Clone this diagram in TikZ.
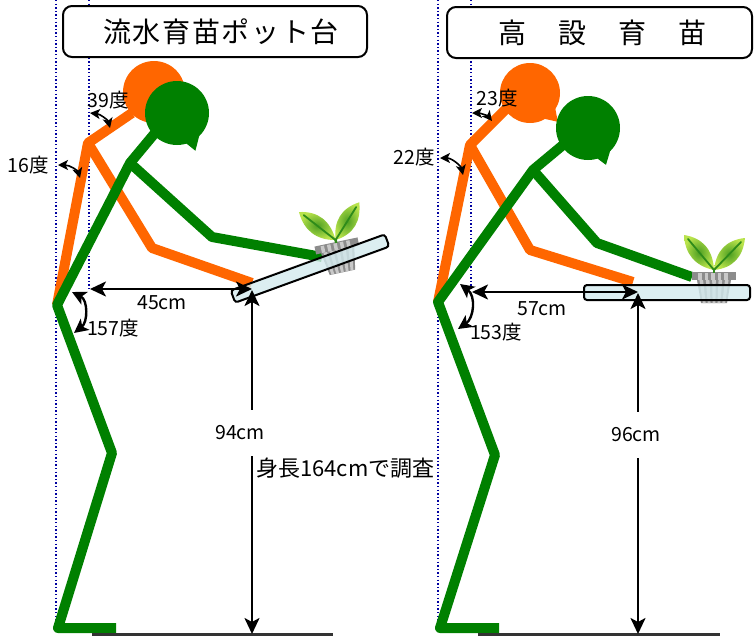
\documentclass[tikz,border=0pt]{standalone}
\usepackage{fontspec}
\setmainfont{Noto Sans CJK JP}
\usetikzlibrary{arrows.meta}

\definecolor{bodyorange}{HTML}{FF6600}
\definecolor{bodygreen}{HTML}{008000}
\definecolor{guideblue}{HTML}{0000A0}
\definecolor{traycyan}{HTML}{D3EAEE}
\definecolor{potgray}{HTML}{8C8C8C}
\definecolor{potlight}{HTML}{C9C9C9}
\definecolor{leafdark}{HTML}{4E9F22}
\definecolor{leaflight}{HTML}{B9E34C}
\definecolor{ribgreen}{HTML}{2E8B1A}
\definecolor{floorgray}{HTML}{333333}

\tikzset{
  seedling/.pic={
    % pot rim with light ribs
    \fill[potgray] (-22,0) rectangle (22,8);
    \foreach \s in {-16,-9.5,-3,3.5,10} \fill[potlight] (\s,1) rectangle ++(3.5,7);
    % tapered pot body with ribs
    \fill[potgray] (-17,8) -- (17,8) -- (13,31) -- (-13,31) -- cycle;
    \foreach \f in {-0.75,-0.375,0,0.375,0.75}
      \fill[potlight] ({\f*17-1.8},8) -- ({\f*17+1.8},8) -- ({\f*13+1.4},31) -- ({\f*13-1.4},31) -- cycle;
    % stem and two leaves
    \draw[ribgreen, line width=2.5pt] (0,1) -- (0,-4);
    \shade[inner color=leafdark, outer color=leaflight]
      (0,-2) .. controls (-1,-22) and (-11,-34) .. (-30,-37) .. controls (-29,-18) and (-19,-6) .. cycle;
    \shade[inner color=leafdark, outer color=leaflight]
      (0,-2) .. controls (2,-21) and (12,-32) .. (31,-34) .. controls (29,-15) and (19,-4) .. cycle;
    \draw[ribgreen, line width=1.8pt, line cap=round] (0,-2) .. controls (-13,-17) .. (-26,-33);
    \draw[ribgreen, line width=1.8pt, line cap=round] (0,-2) .. controls (13,-16) .. (27,-30);
  }
}

\begin{document}
\begin{tikzpicture}[x=1pt,y=-1pt,
  guide/.style={draw=guideblue, line width=1.6pt, dash pattern=on 1.4pt off 2.2pt},
  orangelimb/.style={draw=bodyorange, line width=10pt, line join=round},
  greenlimb/.style={draw=bodygreen, line width=10pt, line join=round},
  titlebox/.style={draw=black, line width=2pt, fill=white, rounded corners=9pt,
    minimum height=51pt, inner sep=0pt, font=\fontsize{28}{28}\selectfont},
  tray/.style={draw=black, line width=2pt, fill=traycyan, fill opacity=0.8,
    rounded corners=3pt, inner sep=0pt},
  dimarrow/.style={draw=black, line width=2.4pt,
    {Stealth[length=16pt,width=15pt,inset=4pt]}-{Stealth[length=16pt,width=15pt,inset=4pt]}},
  anglearrow/.style={draw=black, line width=1.6pt,
    {Stealth[length=10pt,width=10pt,inset=2.5pt]}-{Stealth[length=10pt,width=10pt,inset=2.5pt]}},
  bigangle/.style={draw=black, line width=2.4pt,
    {Stealth[length=14pt,width=14pt,inset=3.5pt]}-{Stealth[length=14pt,width=14pt,inset=3.5pt]}},
  lbl/.style={font=\fontsize{19.5}{19.5}\selectfont, inner sep=1pt},
  floor/.style={draw=floorgray, line width=3pt}
]
\useasboundingbox (0,0) rectangle (756,638);

% ---------- vertical reference lines ----------
\draw[guide] (56,0) -- (56,628);
\draw[guide] (89,0) -- (89,289);
\draw[guide] (438,0) -- (438,628);
\draw[guide] (471,0) -- (471,290);

% ---------- titles ----------
\node[titlebox, minimum width=304pt] (titleL) at (215,31.5)
  {\hspace{12pt}流\kern1.7pt 水\kern1.7pt 育\kern1.7pt 苗\kern1.7pt ポ\kern1.7pt ッ\kern1.7pt ト\kern1.7pt 台};
\node[titlebox, minimum width=305pt] (titleR) at (599.5,32.5)
  {\hspace{6pt}高\hspace{32.3pt}設\hspace{32.3pt}育\hspace{32.3pt}苗};

% ---------- left figure: flowing-water pot bench ----------
% orange posture
\draw[orangelimb] (57,305) -- (88,143) -- (132,113);
\draw[orangelimb] (88,143) -- (152,248) -- (252,283);
\begin{scope}[shift={(154,92)}]
  \fill[bodyorange] (0,0) circle (31pt);
  \fill[bodyorange] (40:30) -- (58:40) -- (72:30) -- cycle;
\end{scope}
% green posture
\draw[greenlimb] (116,628) -- (58,628) -- (112,453) -- (57,305) -- (130,163) -- (155,133);
\draw[greenlimb] (130,163) -- (212,237) -- (322,257);
\begin{scope}[shift={(177,113)}]
  \fill[bodygreen] (0,0) circle (32pt);
  \fill[bodygreen] (43:31) -- (64:42) -- (74:31) -- cycle;
\end{scope}
% seedling and tilted tray
\pic[rotate=12] at (336,242) {seedling};
\node[tray, rotate=20, minimum width=164pt, minimum height=13pt] (trayL) at (310,268.5) {};

% ---------- right figure: raised bench ----------
\draw[orangelimb] (438,302) -- (470,145) -- (507,108);
\draw[orangelimb] (470,145) -- (530,250) -- (633,282);
\begin{scope}[shift={(530,93)}]
  \fill[bodyorange] (0,0) circle (30pt);
  \fill[bodyorange] (30:29) -- (46:40) -- (62:29) -- cycle;
\end{scope}
\draw[greenlimb] (499,628) -- (440,628) -- (495,455) -- (438,302) -- (533,170) -- (563,145);
\draw[greenlimb] (533,170) -- (597,243) -- (692,277);
\begin{scope}[shift={(588,128)}]
  \fill[bodygreen] (0,0) circle (32pt);
  \fill[bodygreen] (43:31) -- (64:41) -- (74:31) -- cycle;
\end{scope}
\pic at (714,272) {seedling};
\node[tray, minimum width=166pt, minimum height=15pt] (trayR) at (667,292.5) {};

% ---------- floors ----------
\coordinate (floorLa) at (92,634);  \coordinate (floorLb) at (333,634);
\coordinate (floorRa) at (478,634); \coordinate (floorRb) at (720,634);
\draw[floor] (floorLa) -- (floorLb);
\draw[floor] (floorRa) -- (floorRb);

% ---------- dimensions, left ----------
\coordinate (reachLa) at (90,289);  \coordinate (reachLb) at (252,289);
\coordinate (heightLa) at (252,290); \coordinate (heightLb) at (252,634);
\draw[dimarrow] (reachLa) -- (reachLb);
\draw[dimarrow] (heightLa) -- (heightLb);
\node[lbl] (reachLlbl) at (162,303) {45cm};
\node[lbl, fill=white, minimum height=46pt, minimum width=48pt] (heightLlbl) at (240,433) {94cm};
\node[anchor=west, inner sep=0pt, font=\fontsize{22}{22}\selectfont] (note) at (256,468) {身長164cmで調査};

\coordinate (neckLa) at (90,113);  \coordinate (neckLb) at (110,128);
\coordinate (backLa) at (58,165);  \coordinate (backLb) at (80,178);
\coordinate (hipLa) at (72,292);   \coordinate (hipLb) at (74,333);
\draw[anglearrow] (neckLa) .. controls (100,114) and (108,120) .. (neckLb);
\draw[anglearrow] (backLa) .. controls (70,165) and (78,171) .. (backLb);
\draw[bigangle] (hipLa) .. controls (88,300) and (88,322) .. (hipLb);
\node[lbl] (neckLlbl) at (108,100) {39度};
\node[lbl] (backLlbl) at (28,165) {16度};
\node[lbl] (hipLlbl) at (113,328) {157度};

% ---------- dimensions, right ----------
\coordinate (reachRa) at (472,292); \coordinate (reachRb) at (638,292);
\coordinate (heightRa) at (638,293); \coordinate (heightRb) at (638,634);
\draw[dimarrow] (reachRa) -- (reachRb);
\draw[dimarrow] (heightRa) -- (heightRb);
\node[lbl] (reachRlbl) at (542,309) {57cm};
\node[lbl, fill=white, minimum height=46pt, minimum width=48pt] (heightRlbl) at (636,435) {96cm};

\coordinate (neckRa) at (472,113); \coordinate (neckRb) at (492,121);
\coordinate (backRa) at (440,158); \coordinate (backRb) at (463,175);
\coordinate (hipRa) at (460,284);  \coordinate (hipRb) at (458,329);
\draw[anglearrow] (neckRa) .. controls (480,113) and (488,116) .. (neckRb);
\draw[anglearrow] (backRa) .. controls (452,158) and (461,166) .. (backRb);
\draw[bigangle] (hipRa) .. controls (476,296) and (474,318) .. (hipRb);
\node[lbl] (neckRlbl) at (497,98) {23度};
\node[lbl] (backRlbl) at (414,157) {22度};
\node[lbl] (hipRlbl) at (496,332) {153度};
\end{tikzpicture}
\end{document}
